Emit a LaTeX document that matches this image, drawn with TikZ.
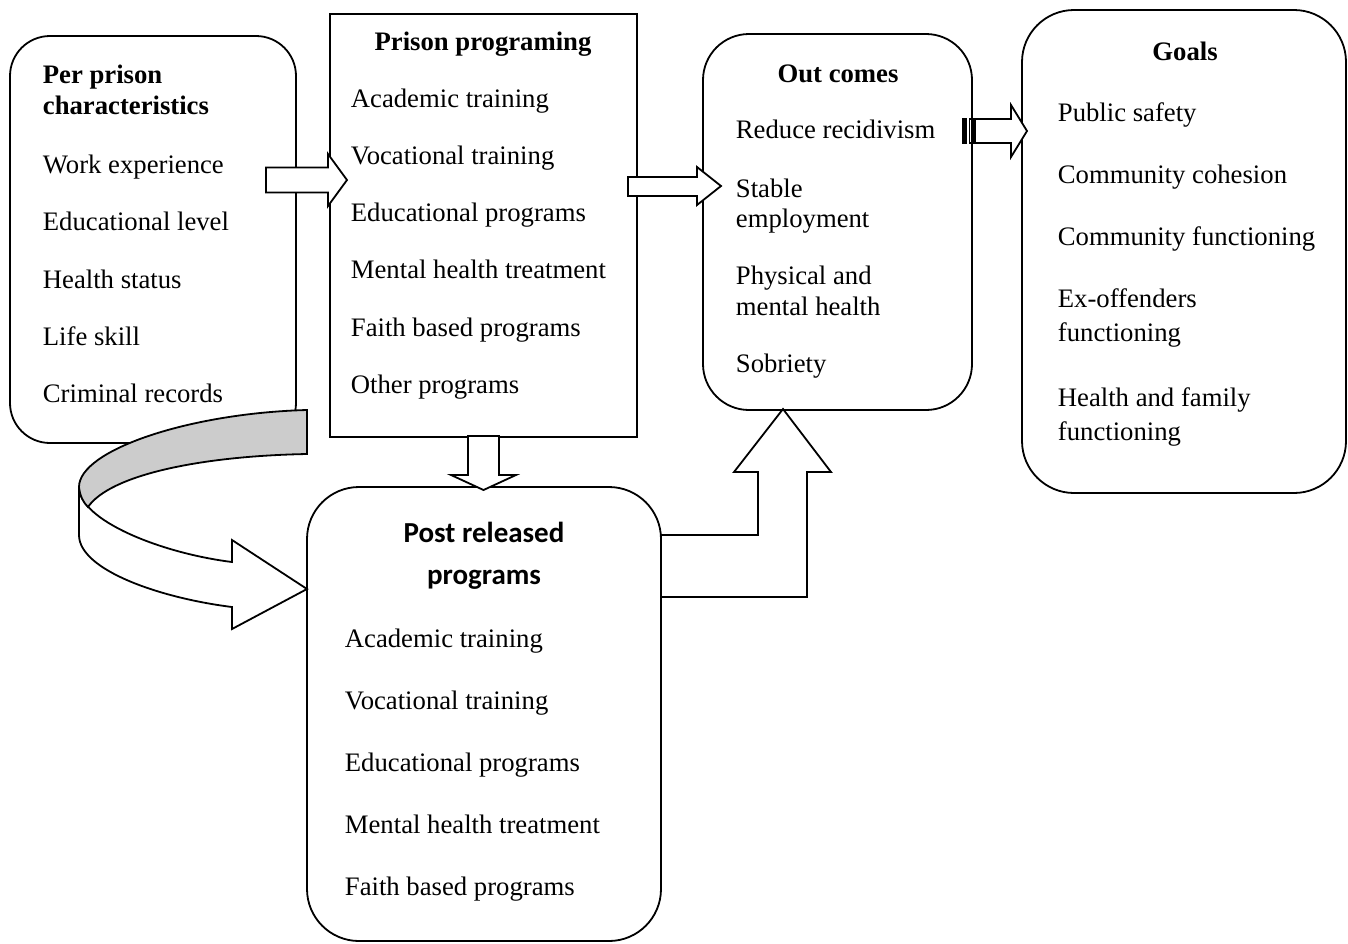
\documentclass[tikz,border=0pt]{standalone}
\usepackage{fontspec}
\setmainfont{Liberation Serif}
\newfontfamily\carlitofont{Carlito}
\begin{document}
\begin{tikzpicture}[x=0.5pt,y=-0.5pt,line width=0.9pt,
  rbox/.style={draw,rounded corners=#1,inner sep=0pt,outer sep=0pt},
  sbox/.style={draw,inner sep=0pt,outer sep=0pt},
  txt/.style={anchor=base west,inner sep=0pt,font=\fontsize{13.35}{16}\selectfont},
  btxt/.style={anchor=base west,inner sep=0pt,font=\fontsize{13.35}{16}\selectfont\bfseries},
  ttl/.style={anchor=base,inner sep=0pt,font=\fontsize{13.35}{16}\selectfont\bfseries},
  sttl/.style={anchor=base,inner sep=0pt,font=\carlitofont\fontsize{14.5}{18}\selectfont\bfseries},
  barrow/.style={draw,fill=white,line join=miter}]
\useasboundingbox (0,0) rectangle (1348,943);

% boxes
\node[rbox=20pt,minimum width=143pt,minimum height=203.5pt] (b1) at (153,239.5) {};
\node[sbox,minimum width=153.5pt,minimum height=211.5pt] (b2) at (483.5,225.5) {};
\node[rbox=23pt,minimum width=134.5pt,minimum height=188pt] (b3) at (837.5,222) {};
\node[rbox=26pt,minimum width=162pt,minimum height=241.5pt] (b4) at (1184,251.5) {};
\node[rbox=26pt,minimum width=177pt,minimum height=227pt] (b5) at (484,714) {};

% block arrows
\draw[barrow] (266,167.5) -- (328,167.5) -- (328,154) -- (347,180) -- (328,206) -- (328,192.5) -- (266,192.5) -- cycle;
\draw[barrow] (628,177) -- (697,177) -- (697,167) -- (721,186) -- (697,205) -- (697,196) -- (628,196) -- cycle;
\filldraw[line width=0.6pt] (963,119) rectangle (966.5,143);
\draw[line width=0.8pt] (969.5,119) rectangle (973,143);
\draw[barrow] (975,119) -- (1011,119) -- (1011,105) -- (1027,131) -- (1011,157) -- (1011,143) -- (975,143) -- cycle;
\draw[barrow] (468,436) -- (468,475) -- (451,475) -- (483.5,490) -- (516,475) -- (499,475) -- (499,436) -- cycle;
\draw[barrow] (661,535) -- (758,535) -- (758,472) -- (734,472) -- (783,409) -- (831,472) -- (807,472) -- (807,597) -- (661,597) -- cycle;

% curved arrow
\draw[barrow] (79,487) -- (79,535) .. controls (79,570) and (160,598) .. (232,607) -- (232,629) -- (307,589) -- (232,540) -- (232,562) .. controls (160,553) and (79,520) .. (79,487) -- cycle;
\draw[fill=black!20,line join=miter] (307,410) .. controls (190,413) and (79,450) .. (79,487) .. controls (80,496) and (83,502) .. (88,507) .. controls (110,475) and (200,456) .. (307,454) -- cycle;

% box 1 text
\node[btxt] (t1a) at (42,83) {Per prison};
\node[btxt] (t1b) at (42,114) {characteristics};
\node[txt] (t1c) at (42,173) {Work experience};
\node[txt] (t1d) at (42,230) {Educational level};
\node[txt] (t1e) at (42,288) {Health status};
\node[txt] (t1f) at (42,345) {Life skill};
\node[txt] (t1g) at (42,402) {Criminal records};

% box 2 text
\node[ttl] (t2a) at (483,50) {Prison programing};
\node[txt] (t2b) at (350,107) {Academic training};
\node[txt] (t2c) at (350,164) {Vocational training};
\node[txt] (t2d) at (350,221) {Educational programs};
\node[txt] (t2e) at (350,278) {Mental health treatment};
\node[txt] (t2f) at (350,336) {Faith based programs};
\node[txt] (t2g) at (350,393) {Other programs};

% box 3 text
\node[ttl] (t3a) at (838,82) {Out comes};
\node[txt] (t3b) at (735,138) {Reduce recidivism};
\node[txt] (t3c) at (735,197) {Stable};
\node[txt] (t3d) at (735,227) {employment};
\node[txt] (t3e) at (735,284) {Physical and};
\node[txt] (t3f) at (735,315) {mental health};
\node[txt] (t3g) at (735,372) {Sobriety};

% box 4 text
\node[ttl] (t4a) at (1185,60) {Goals};
\node[txt] (t4b) at (1057,121) {Public safety};
\node[txt] (t4c) at (1057,183) {Community cohesion};
\node[txt] (t4d) at (1057,245) {Community functioning};
\node[txt] (t4e) at (1057,307) {Ex-offenders};
\node[txt] (t4f) at (1057,341) {functioning};
\node[txt] (t4g) at (1057,406) {Health and family};
\node[txt] (t4h) at (1057,440) {functioning};

% box 5 text
\node[sttl] (t5a) at (484,542) {Post released};
\node[sttl] (t5b) at (484,584) {programs};
\node[txt] (t5c) at (344,647) {Academic training};
\node[txt] (t5d) at (344,709) {Vocational training};
\node[txt] (t5e) at (344,771) {Educational programs};
\node[txt] (t5f) at (344,833) {Mental health treatment};
\node[txt] (t5g) at (344,895) {Faith based programs};
\end{tikzpicture}
\end{document}
